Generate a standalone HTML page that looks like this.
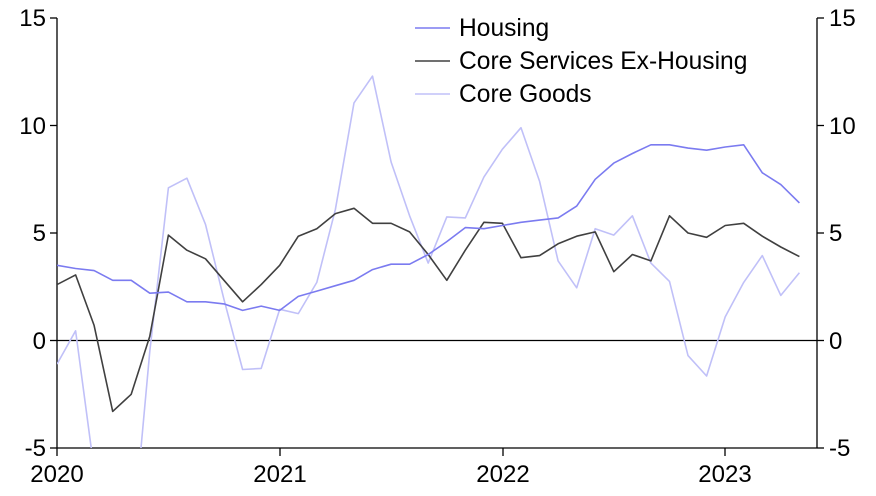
<!DOCTYPE html>
<html><head><meta charset="utf-8"><style>
html,body{margin:0;padding:0;background:#fff;overflow:hidden;width:876px;height:496px;}
svg{display:block;font-family:"Liberation Sans",Arial,sans-serif;}
</style></head><body>
<svg width="876" height="496" viewBox="0 0 876 496" xmlns="http://www.w3.org/2000/svg">
<defs><clipPath id="c"><rect x="57" y="18" width="760" height="430"/></clipPath></defs>
<line x1="57" y1="340.5" x2="817" y2="340.5" stroke="#000" stroke-width="1.3"/>
<line x1="57" y1="18" x2="57" y2="448" stroke="#000" stroke-width="1.3"/>
<line x1="817" y1="18" x2="817" y2="448" stroke="#000" stroke-width="1.3"/>
<line x1="57" y1="448" x2="817" y2="448" stroke="#000" stroke-width="1.3"/>
<g stroke="#000" stroke-width="1.3">
<line x1="50" y1="18" x2="57" y2="18"/><line x1="50" y1="125.5" x2="57" y2="125.5"/><line x1="50" y1="233" x2="57" y2="233"/><line x1="50" y1="340.5" x2="57" y2="340.5"/><line x1="50" y1="448" x2="57" y2="448"/>
<line x1="817" y1="18" x2="824" y2="18"/><line x1="817" y1="125.5" x2="824" y2="125.5"/><line x1="817" y1="233" x2="824" y2="233"/><line x1="817" y1="340.5" x2="824" y2="340.5"/><line x1="817" y1="448" x2="824" y2="448"/>
<line x1="57" y1="448" x2="57" y2="456"/><line x1="280" y1="448" x2="280" y2="456"/><line x1="503" y1="448" x2="503" y2="456"/><line x1="725" y1="448" x2="725" y2="456"/>
</g>
<g font-size="24" fill="#000" text-anchor="end">
<text x="46" y="26">15</text><text x="46" y="134">10</text><text x="46" y="241">5</text><text x="46" y="349">0</text><text x="46" y="456">-5</text>
</g>
<g font-size="24" fill="#000" text-anchor="start">
<text x="829" y="26">15</text><text x="829" y="134">10</text><text x="829" y="241">5</text><text x="829" y="349">0</text><text x="829" y="456">-5</text>
</g>
<g font-size="24" fill="#000" text-anchor="middle">
<text x="57" y="482">2020</text><text x="280" y="482">2021</text><text x="503" y="482">2022</text><text x="725" y="482">2023</text>
</g>
<g clip-path="url(#c)" fill="none" stroke-width="1.6" stroke-linejoin="round">
<polyline id="g" stroke="#c0c0f8" points=""/>
<polyline id="s" stroke="#404040" points=""/>
<polyline id="h" stroke="#7b7bf0" points=""/>
</g>
<line x1="415" y1="28" x2="450" y2="28" stroke="#7b7bf0" stroke-width="1.6"/>
<line x1="415" y1="61" x2="450" y2="61" stroke="#404040" stroke-width="1.6"/>
<line x1="415" y1="94" x2="450" y2="94" stroke="#c0c0f8" stroke-width="1.6"/>
<g font-size="24.6" fill="#000">
<text x="459" y="36">Housing</text><text x="459" y="69">Core Services Ex-Housing</text><text x="459" y="102">Core Goods</text>
</g>
<script>
var H=[3.5,3.35,3.25,2.8,2.8,2.2,2.25,1.8,1.8,1.7,1.4,1.6,1.4,2.05,2.3,2.55,2.8,3.3,3.55,3.55,4.0,4.6,5.25,5.2,5.35,5.5,5.6,5.7,6.25,7.5,8.25,8.7,9.1,9.1,8.95,8.85,9.0,9.1,7.8,7.25,6.4];
var S=[2.6,3.05,0.7,-3.3,-2.5,0.2,4.9,4.2,3.8,2.8,1.8,2.6,3.5,4.85,5.2,5.9,6.15,5.45,5.45,5.05,4.0,2.8,4.2,5.5,5.45,3.85,3.95,4.5,4.85,5.05,3.2,4.0,3.7,5.8,5.0,4.8,5.35,5.45,4.85,4.35,3.9];
var G=[-1.1,0.45,-6,-10,-10,-0.5,7.1,7.55,5.4,1.9,-1.35,-1.3,1.45,1.25,2.7,6.1,11.05,12.3,8.3,5.8,3.6,5.75,5.7,7.6,8.9,9.9,7.4,3.7,2.45,5.2,4.9,5.8,3.6,2.75,-0.7,-1.65,1.1,2.7,3.95,2.1,3.15];
function p(a){return a.map(function(v,i){return (57+i*18.56).toFixed(1)+","+(340.5-v*21.5).toFixed(1)}).join(" ")}
document.getElementById("h").setAttribute("points",p(H));
document.getElementById("s").setAttribute("points",p(S));
document.getElementById("g").setAttribute("points",p(G));
</script>
</svg>
</body></html>
